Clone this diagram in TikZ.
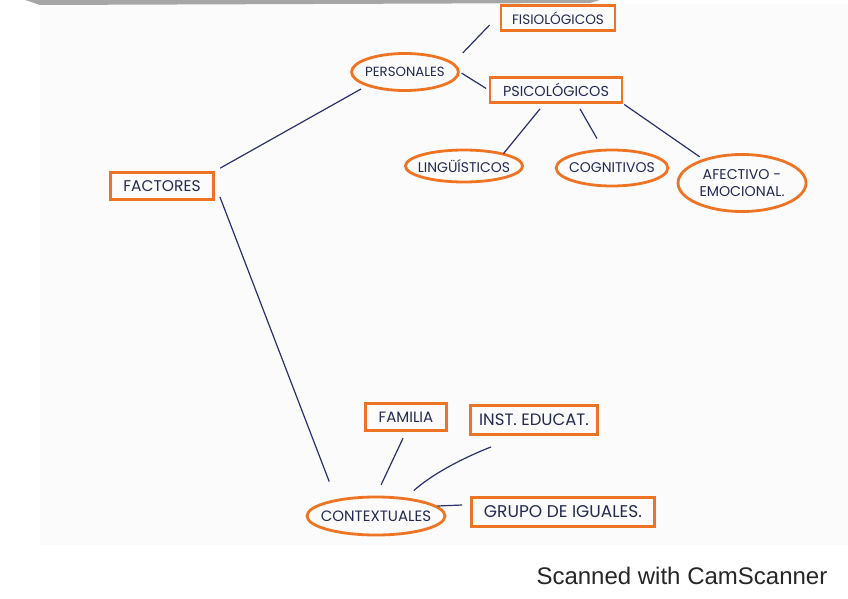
\documentclass[tikz,border=0pt]{standalone}
\usepackage{fontspec}
\setmainfont{Liberation Sans}
\newfontfamily\handfont{Poppins}
\usetikzlibrary{shapes.geometric,calc}
\definecolor{hlorange}{HTML}{EE7424}
\definecolor{inkblue}{HTML}{2B2F6B}
\definecolor{textink}{HTML}{25294F}
\definecolor{paper}{HTML}{FBFBFB}
\newcommand{\hsz}[1]{\handfont\fontsize{#1}{#1}\selectfont}
\tikzset{
  x=1pt, y=-1pt,
  boxnode/.style={draw=hlorange, line width=2.8pt, rectangle, inner sep=0pt,
    text=textink, font=\hsz{14}},
  ovalnode/.style={draw=hlorange, line width=2.8pt, ellipse, inner sep=0pt,
    text=textink, font=\hsz{14}, align=center},
  link/.style={draw=inkblue, line width=1.2pt}
}
\begin{document}
\begin{tikzpicture}
\useasboundingbox (0,0) rectangle (848,599);
\fill[white] (0,0) rectangle (848,599);
\fill[paper] (40,4) rectangle (848,545);
\fill[gray!70] (25,0) -- (600,0) -- (590,3) -- (40,5) -- cycle;

% nodes
\node[boxnode, minimum width=114, minimum height=25, font=\hsz{13.6}] (fis) at (558,18) {FISIOLÓGICOS};
\node[ovalnode, minimum width=106, minimum height=37, font=\hsz{13.3}, inner xsep=-2pt] (per) at (405,72) {PERSONALES};
\node[boxnode, minimum width=132, minimum height=25, font=\hsz{14.4}] (psi) at (556,90) {PSICOLÓGICOS};
\node[ovalnode, minimum width=117, minimum height=32, inner xsep=-4.8pt] (lin) at (464,166) {LINGÜÍSTICOS};
\node[ovalnode, minimum width=111, minimum height=36, inner xsep=-3.4pt] (cog) at (612,168) {COGNITIVOS};
\node[ovalnode, minimum width=128, minimum height=57, font=\hsz{14.2}] (afe) at (742,183) {AFECTIVO -\\[3pt]EMOCIONAL.};
\node[boxnode, minimum width=103, minimum height=27, font=\hsz{15.5}] (fac) at (162,186) {FACTORES};
\node[boxnode, minimum width=81, minimum height=27, font=\hsz{15}] (fam) at (406,417) {FAMILIA};
\node[boxnode, minimum width=127, minimum height=29, font=\hsz{16.5}] (ins) at (534,420) {INST. EDUCAT.};
\node[ovalnode, minimum width=138, minimum height=38, font=\hsz{15}, inner xsep=-7.8pt] (con) at (376,516) {CONTEXTUALES};
\node[boxnode, minimum width=183, minimum height=29, font=\hsz{17}] (gru) at (563,512) {GRUPO DE IGUALES.};

% connectors
\draw[link, shorten <=6pt, shorten >=6pt] (fac.north east) -- (per.south west);
\draw[link] ($(fac.south east)+(5,-4)$) -- ($(con.north west)+(3,-20)$);
\draw[link] ($(per.north east)+(19,-5)$) -- ($(fis.west)+(-10,7)$);
\draw[link, shorten <=2pt, shorten >=3pt] (per.east) -- (psi.west);
\draw[link] ($(psi.south)+(-16,5)$) -- ($(lin.north east)+(-3,0)$);
\draw[link] ($(psi.south)+(24,5)$) -- ($(cog.north)+(-15,-10)$);
\draw[link, shorten <=1pt] (psi.south east) -- ($(afe.north west)+(4,-5)$);
\draw[link, shorten <=7pt, shorten >=12pt] (fam.south) -- (con.north);
\draw[link] ($(ins.south west)+(22,11)$) .. controls (458,460) and (430,476) .. ($(con.north east)+(-12,-11)$);
\draw[link] ($(con.east)+(-9,-10)$) -- ($(gru.west)+(-8,-7)$);

\node[anchor=west, font=\fontsize{24}{28}\selectfont, text=black!85] (scan) at (533,576) {Scanned with CamScanner};
\end{tikzpicture}
\end{document}
